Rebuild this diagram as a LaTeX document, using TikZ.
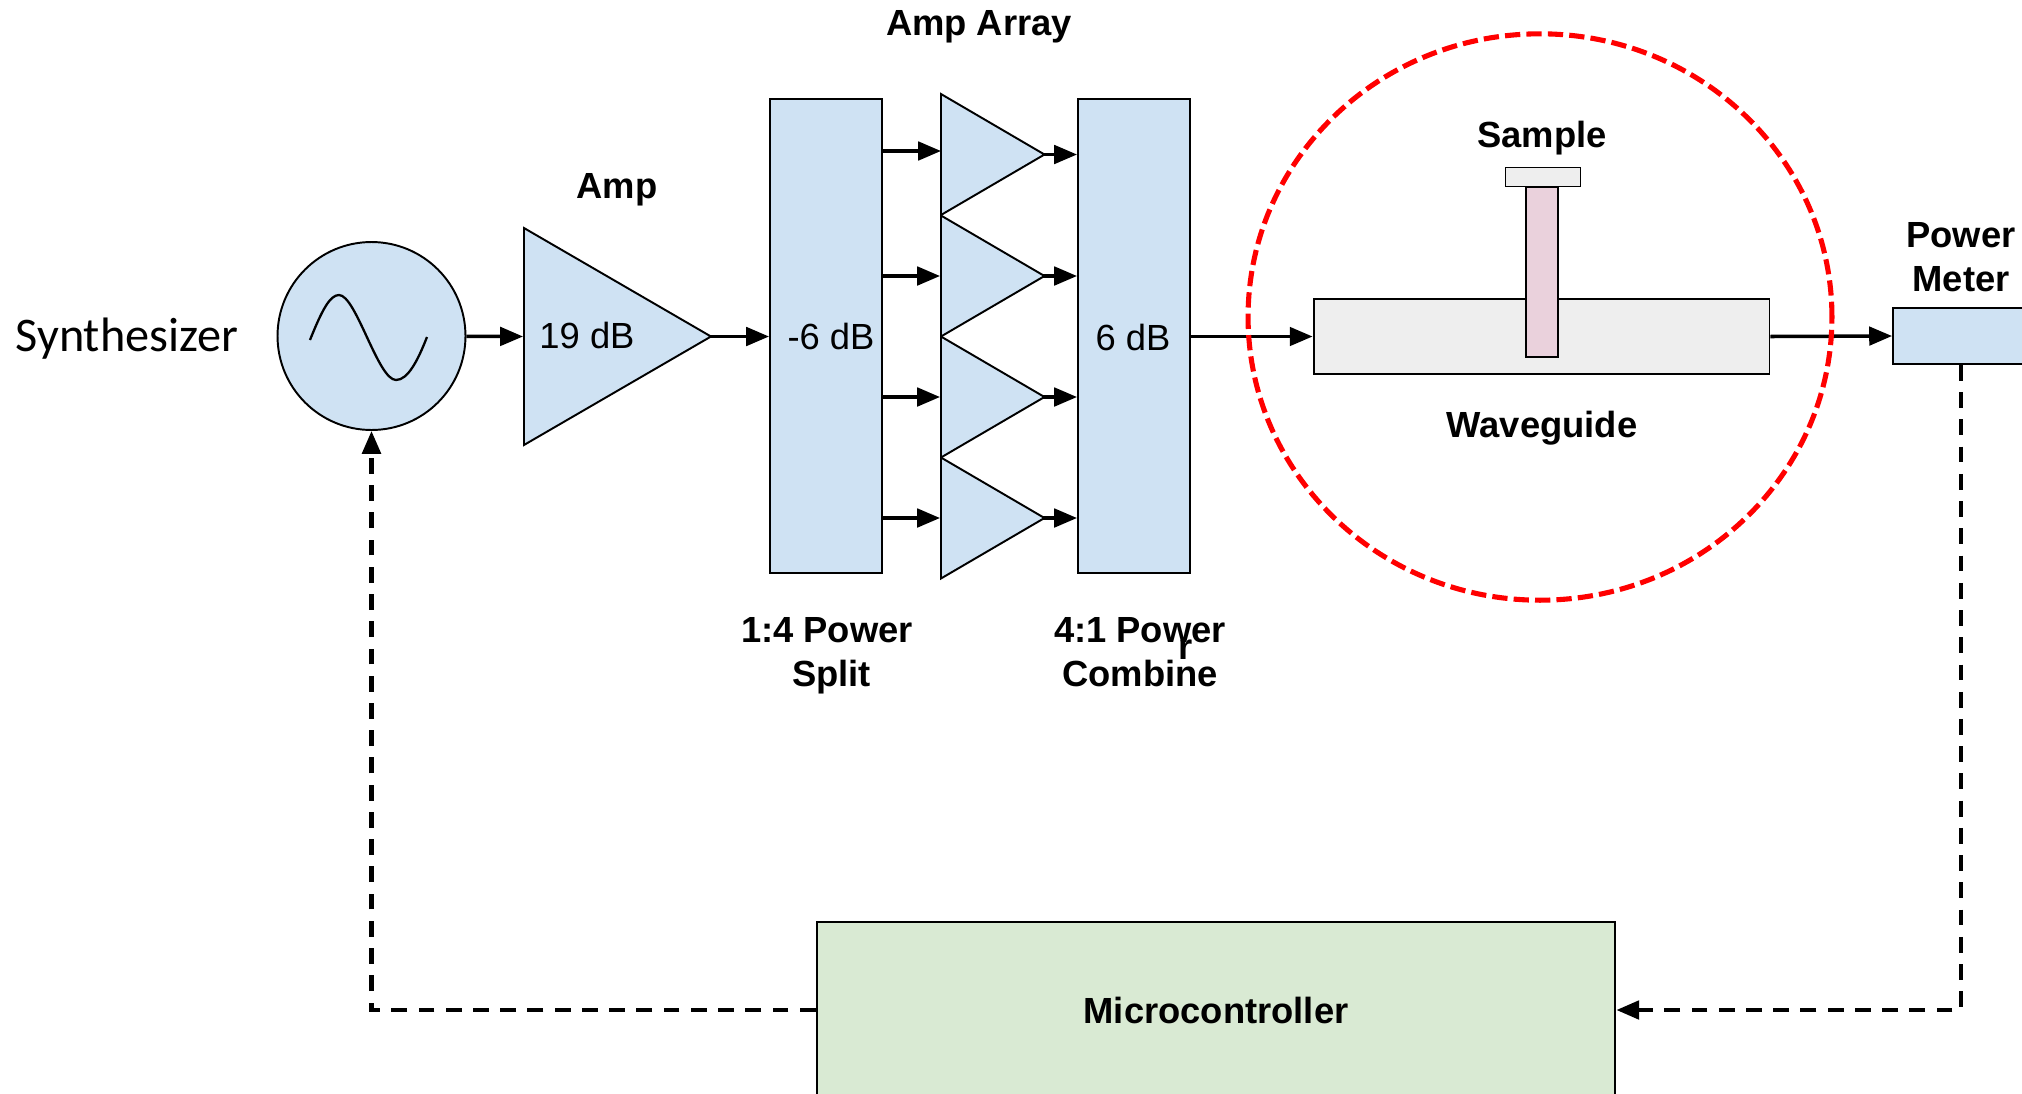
\documentclass[tikz,border=0pt]{standalone}
\usepackage{fontspec}
\setmainfont{Liberation Sans}
\newfontfamily\synthfont{Carlito}
\usetikzlibrary{shapes.geometric,arrows.meta}
\definecolor{blockblue}{HTML}{CFE2F3}
\definecolor{blockgreen}{HTML}{D9EAD3}
\definecolor{blockgray}{HTML}{EEEEEE}
\definecolor{blockpink}{HTML}{EAD1DC}
\begin{document}
\begin{tikzpicture}[x=0.02cm,y=-0.02cm]
\tikzstyle{block}=[draw,line width=1.1pt,rectangle,inner sep=0pt]
\tikzstyle{amptri}=[draw,line width=1.1pt,isosceles triangle,isosceles triangle stretches,shape border rotate=0,fill=blockblue,inner sep=0pt,anchor=apex]
\tikzstyle{label}=[font=\fontsize{20.7}{25}\selectfont\bfseries,align=center]
\tikzstyle{value}=[font=\fontsize{20.7}{25}\selectfont]
\tikzstyle{sig}=[line width=2pt,-{Triangle[length=13pt,width=10.5pt]}]
\tikzstyle{tipsig}=[sig,shorten <=-2pt]
\tikzstyle{ctrl}=[line width=2.3pt,dash pattern=on 9pt off 6.5pt,-{Triangle[length=13pt,width=10.5pt]}]
\useasboundingbox (0,0) rectangle (2022,1093);
\clip (0,0) rectangle (2022,1093);
\node[block,circle,fill=blockblue,minimum size=3.76cm] (synth) at (371.5,336) {};
\draw[line width=1.3pt] (310,340) .. controls (322,310) and (330,295) .. (339,295) .. controls (356,295) and (378,380) .. (396,380) .. controls (408,380) and (418,360) .. (427,337);
\node[amptri,minimum width=4.34cm,minimum height=3.74cm] (amp) at (713.5,336.5) {};
\node[block,fill=blockblue,minimum width=2.24cm,minimum height=9.48cm] (split) at (826,336) {};
\node[amptri,minimum width=2.42cm,minimum height=2.07cm] (tri1) at (1047,154.5) {};
\node[amptri,minimum width=2.42cm,minimum height=2.07cm] (tri2) at (1047,276) {};
\node[amptri,minimum width=2.42cm,minimum height=2.07cm] (tri3) at (1047,397) {};
\node[amptri,minimum width=2.42cm,minimum height=2.07cm] (tri4) at (1047,518) {};
\node[block,fill=blockblue,minimum width=2.24cm,minimum height=9.48cm] (combine) at (1134,336) {};
\node[block,fill=blockgray,minimum width=9.12cm,minimum height=1.5cm] (guide) at (1541.5,336.5) {};
\node[block,fill=blockpink,minimum width=0.64cm,minimum height=3.4cm] (stem) at (1542,272) {};
\node[block,fill=blockgray,minimum width=1.5cm,minimum height=0.38cm] (cap) at (1543,177) {};
\node[block,fill=blockblue,minimum width=2.72cm,minimum height=1.12cm] (meter) at (1961,336) {};
\node[block,fill=blockgreen,minimum width=15.98cm,minimum height=3.56cm] (micro) at (1216,1011) {};
\coordinate (in1) at (941,151);
\coordinate (bend1) at (371.5,1010);
\coordinate (bend2) at (1961,1010);
\draw[sig] (synth) -- (amp.lower side);
\draw[tipsig] (amp.apex) -- (split.west |- amp.apex);
\draw[sig] (split.east |- in1) -- (in1);
\draw[sig] (split.east |- tri2.apex) -- (tri2.apex -| tri2.lower side);
\draw[sig] (split.east |- tri3.apex) -- (tri3.apex -| tri3.lower side);
\draw[sig] (split.east |- tri4.apex) -- (tri4.apex -| tri4.lower side);
\draw[tipsig] (tri1.apex) -- (tri1.apex -| combine.west);
\draw[tipsig] (tri2.apex) -- (tri2.apex -| combine.west);
\draw[tipsig] (tri3.apex) -- (tri3.apex -| combine.west);
\draw[tipsig] (tri4.apex) -- (tri4.apex -| combine.west);
\draw[sig] (combine.east |- guide.west) -- (guide.west);
\draw[sig] (guide.east) -- (meter.west);
\draw[ctrl] (micro.west |- bend1) -- (bend1) -- (synth.south);
\draw[ctrl] (meter.south) -- (bend2) -- (micro.east |- bend2);
\node[draw=red,line width=2.9pt,dash pattern=on 8.7pt off 3.5pt,ellipse,inner sep=0pt,minimum width=11.68cm,minimum height=11.33cm] (zone) at (1540,317) {};
\node[font=\fontsize{27.5}{32}\synthfont] (synthtxt) at (127,339) {Synthesizer};
\node[value] (amptxt) at (587,335) {19 dB};
\node[value] (splittxt) at (831,336) {-6 dB};
\node[value] (combinetxt) at (1133,337) {6 dB};
\node[label] (amplbl) at (617,190) {Amp};
\node[label] (arraylbl) at (979,27) {Amp Array};
\node[label] (splitlbl) at (827,656) {1:4 Power\\\hspace*{5pt}Split};
\node[label] (combinelbl) at (1140,652) {4:1 Power\\Combine};
\node[label] (stray) at (1186,650) {r};
\node[label] (samplelbl) at (1542,138) {Sample};
\node[label] (guidelbl) at (1542,428) {Waveguide};
\node[label] (meterlbl) at (1961,257) {Power\\Meter};
\node[label] (microlbl) at (1216,1010) {Microcontroller};
\end{tikzpicture}
\end{document}
